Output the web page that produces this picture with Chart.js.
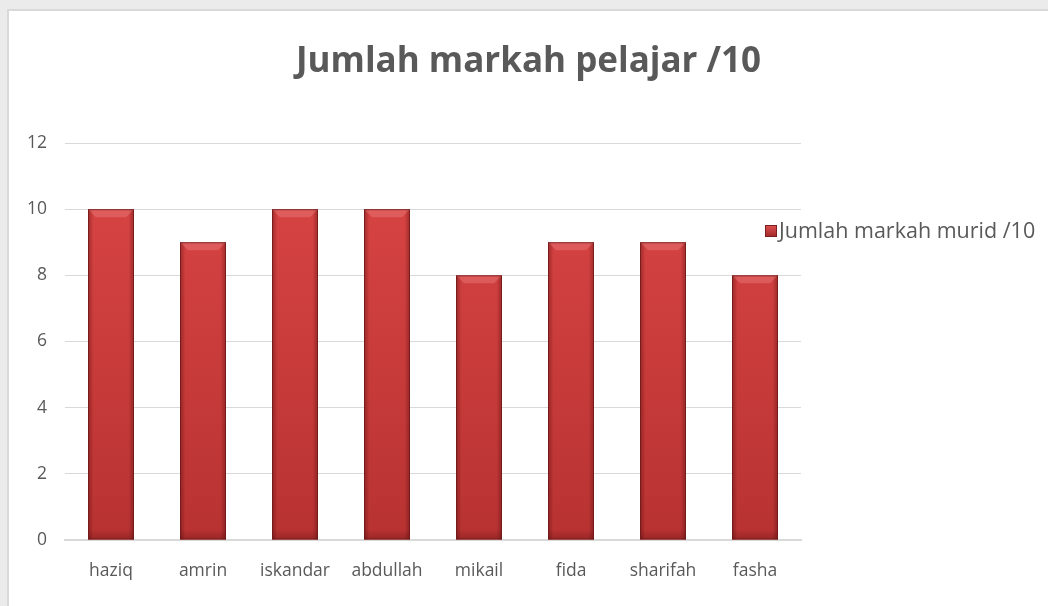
<!DOCTYPE html>
<html>
<head>
<meta charset="utf-8">
<script src="https://cdn.jsdelivr.net/npm/chart.js@4"></script>
<style>
  html, body { margin: 0; padding: 0; background: #ebebeb; overflow: hidden; }
  #panel {
    position: absolute; left: 7px; top: 9px;
    width: 1039px; height: 595px;
    background: #fff;
    border-left: 2px solid #d9d9d9; border-top: 2px solid #d9d9d9;
  }
</style>
</head>
<body>
<div id="panel"><canvas id="chart" width="1039" height="595"></canvas></div>
<script>
// data
const names = ['haziq', 'amrin', 'iskandar', 'abdullah', 'mikail', 'fida', 'sharifah', 'fasha'];
const marks = [10, 9, 10, 10, 8, 9, 9, 8];
const seriesLabel = 'Jumlah markah murid /10';
const chartTitle = 'Jumlah markah pelajar /10';

const FONT = "'Open Sans', 'DejaVu Sans', sans-serif";
const TEXT = '#595959';

// shading on the bars (edges darker, bevel on top)
const barShade = {
  id: 'barShade',
  afterDatasetsDraw(chart) {
    const ctx = chart.ctx;
    chart.getDatasetMeta(0).data.forEach(bar => {
      const l = bar.x - bar.width / 2, r = bar.x + bar.width / 2;
      const t = bar.y, b = bar.base;
      ctx.save();
      let g = ctx.createLinearGradient(l, 0, r, 0);
      g.addColorStop(0, 'rgba(60,0,0,0.35)');
      g.addColorStop(0.12, 'rgba(60,0,0,0.0)');
      g.addColorStop(0.88, 'rgba(60,0,0,0.0)');
      g.addColorStop(1, 'rgba(60,0,0,0.35)');
      ctx.fillStyle = g;
      ctx.fillRect(l, t, r - l, b - t);
      // top bevel
      ctx.beginPath();
      ctx.moveTo(l, t); ctx.lineTo(r, t);
      ctx.lineTo(r - 8, t + 8); ctx.lineTo(l + 8, t + 8);
      ctx.closePath();
      ctx.fillStyle = 'rgba(255,170,170,0.25)';
      ctx.fill();
      // bottom darker
      g = ctx.createLinearGradient(0, b - 10, 0, b);
      g.addColorStop(0, 'rgba(60,0,0,0)');
      g.addColorStop(1, 'rgba(60,0,0,0.25)');
      ctx.fillStyle = g;
      ctx.fillRect(l, b - 10, r - l, 10);
      ctx.strokeStyle = 'rgba(110,25,25,0.8)';
      ctx.lineWidth = 1;
      ctx.strokeRect(l + 0.5, t + 0.5, r - l - 1, b - t - 1);
      ctx.restore();
    });
  }
};

// legend drawn beside the plot, overlapping its right edge like the original
const sideLegend = {
  id: 'sideLegend',
  afterDraw(chart) {
    const ctx = chart.ctx;
    const x = chart.chartArea.right - 36;
    const y = chart.chartArea.top + 88;
    ctx.save();
    const g = ctx.createLinearGradient(0, y - 6, 0, y + 6);
    g.addColorStop(0, '#e05050');
    g.addColorStop(1, '#a02828');
    ctx.fillStyle = g;
    ctx.fillRect(x, y - 6, 12, 12);
    ctx.strokeStyle = '#7a1f1f';
    ctx.strokeRect(x + 0.5, y - 5.5, 11, 11);
    ctx.fillStyle = TEXT;
    ctx.font = '21.5px ' + FONT;
    ctx.textBaseline = 'middle';
    ctx.fillText(chart.data.datasets[0].label, x + 14, y + 1);
    ctx.restore();
  }
};

new Chart(document.getElementById('chart'), {
  type: 'bar',
  data: {
    labels: names,
    datasets: [{
      label: seriesLabel,
      data: marks,
      backgroundColor(c) {
        const area = c.chart.chartArea;
        if (!area) return '#cc3b3b';
        const g = c.chart.ctx.createLinearGradient(0, area.top, 0, area.bottom);
        g.addColorStop(0, '#dc4646');
        g.addColorStop(1, '#b83232');
        return g;
      },
      borderWidth: 0,
      categoryPercentage: 1,
      barPercentage: 0.5
    }]
  },
  plugins: [barShade, sideLegend],
  options: {
    responsive: false,
    animation: false,
    layout: { padding: 0 },
    plugins: {
      legend: { display: false },
      tooltip: { enabled: false },
      title: {
        display: true,
        text: chartTitle,
        color: TEXT,
        font: { family: FONT, size: 35, weight: 'bold' },
        padding: { top: 30, bottom: 60 }
      }
    },
    scales: {
      x: {
        grid: { display: false, drawTicks: false },
        border: { display: true, color: '#d9d9d9', width: 2 },
        ticks: { color: TEXT, font: { family: FONT, size: 17.5 }, padding: 21 },
        afterFit(s) { s.height = 66; }
      },
      y: {
        min: 0, max: 12,
        grid: { color: '#d9d9d9', lineWidth: 1, drawTicks: false },
        border: { display: false },
        ticks: { stepSize: 2, color: TEXT, font: { family: FONT, size: 17.5 }, padding: 18 },
        afterFit(s) { s.width = 56; }
      },
      // empty right-hand space where the legend sits
      side: {
        position: 'right',
        grid: { display: false, drawTicks: false },
        border: { display: false },
        ticks: { display: false },
        afterFit(s) { s.width = 247; }
      }
    }
  }
});
</script>
</body>
</html>
